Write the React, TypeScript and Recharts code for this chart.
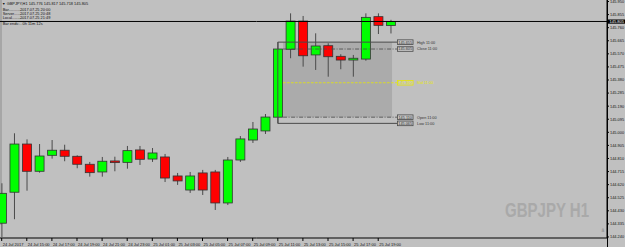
import React from 'react';
import { ComposedChart, Bar, XAxis, YAxis, ReferenceLine, ReferenceArea, ReferenceDot } from 'recharts';

// GBPJPY H1, 24 Jul 13:00 .. 25 Jul 20:00
const opens = [144.340, 144.565, 144.915, 144.717, 144.833, 144.870, 144.826, 144.768, 144.712, 144.792, 144.782, 144.872, 144.806, 144.821, 144.683, 144.581, 144.705, 144.712, 144.487, 144.799, 144.944, 145.010, 145.110, 145.603, 145.808, 145.562, 145.629, 145.552, 145.525, 145.532, 145.840, 145.776];
const highs = [144.630, 144.993, 144.949, 144.915, 144.944, 144.910, 144.833, 144.785, 144.821, 144.823, 144.901, 144.901, 144.886, 144.843, 144.705, 144.712, 144.727, 144.727, 144.821, 144.973, 145.075, 145.133, 145.655, 145.864, 145.845, 145.719, 145.647, 145.567, 145.562, 145.864, 145.864, 145.817];
const lows = [144.240, 144.369, 144.576, 144.707, 144.809, 144.790, 144.739, 144.678, 144.678, 144.717, 144.736, 144.763, 144.785, 144.639, 144.618, 144.560, 144.545, 144.436, 144.472, 144.785, 144.923, 144.988, 145.065, 145.538, 145.477, 145.453, 145.404, 145.458, 145.404, 145.520, 145.714, 145.718];
const closes = [144.557, 144.915, 144.717, 144.828, 144.870, 144.826, 144.768, 144.707, 144.790, 144.780, 144.867, 144.804, 144.850, 144.668, 144.647, 144.683, 144.581, 144.487, 144.799, 144.952, 145.024, 145.111, 145.605, 145.808, 145.556, 145.627, 145.549, 145.525, 145.538, 145.835, 145.777, 145.805];

const timeLabels = ['24 Jul 2017', '24 Jul 15:00', '24 Jul 17:00', '24 Jul 19:00', '24 Jul 21:00', '24 Jul 23:00', '25 Jul 01:00', '25 Jul 03:00', '25 Jul 05:00', '25 Jul 07:00', '25 Jul 09:00', '25 Jul 11:00', '25 Jul 13:00', '25 Jul 15:00', '25 Jul 17:00', '25 Jul 19:00'];
const timeTicks = timeLabels.map((_, k) => k * 2);
const priceTicks = [145.950, 145.855, 145.760, 145.665, 145.570, 145.475, 145.380, 145.285, 145.190, 145.095, 145.000, 144.905, 144.810, 144.715, 144.620, 144.525, 144.430, 144.335, 144.240];

const bid = 145.805;
const boxBar = 22; // 25 Jul 11:00
const boxEnd = 31.1;
const lineEnd = 31.5;

const data = opens.map((o, i) => ({ i, o, h: highs[i], l: lows[i], c: closes[i] }));

const bH = highs[boxBar];
const bL = lows[boxBar];
const bO = opens[boxBar];
const bC = closes[boxBar];
const bM = (bH + bL) / 2;

const FONT = '"Liberation Sans", Arial, sans-serif';

function Candle(props: any) {
  const { x, y, width, height, payload } = props;
  if (height == null) return null;
  const { o, h, l, c } = payload;
  const k = height / (h - l);
  const cx = x + width / 2;
  const py = (v: number) => y + (h - v) * k;
  const top = py(Math.max(o, c));
  const bot = py(Math.min(o, c));
  return (
    <g>
      <line x1={cx} x2={cx} y1={y} y2={y + height} stroke="#4a4a4a" strokeWidth={1} />
      <rect x={x} y={top} width={width} height={Math.max(bot - top, 1)}
        fill={c >= o ? '#00ff00' : '#ff0000'} stroke="#333" strokeWidth={0.8} />
    </g>
  );
}

function TimeTick(props: any) {
  const { x, y, payload, index } = props;
  return (
    <text x={x + 1} y={y + 3} fontSize={4} fontFamily={FONT} fill="#111" textAnchor="start">
      {timeLabels[index] ?? payload.value}
    </text>
  );
}

function tag(text: string, name: string, color: string, textColor: string) {
  return (p: any) => (
    <g>
      <rect x={p.cx + 0.5} y={p.cy - 2.3} width={15.5} height={4.6} fill="#c4c4c4" stroke={color} strokeWidth={0.8} />
      <text x={p.cx + 8.2} y={p.cy + 1.4} fontSize={3.8} fontFamily={FONT} fill={textColor} textAnchor="middle">{text}</text>
      <text x={p.cx + 20} y={p.cy + 1.4} fontSize={3.8} fontFamily={FONT} fill={textColor}>{name}</text>
    </g>
  );
}

function BidTag(p: any) {
  return (
    <g>
      <rect x={p.cx + 1} y={p.cy - 2} width={17} height={4.2} fill="#000" />
      <text x={p.cx + 2.5} y={p.cy + 1.4} fontSize={4} fontFamily={FONT} fill="#fff">{bid.toFixed(3)}</text>
    </g>
  );
}

export default function App() {
  return (
    <div style={{ position: 'absolute', left: 0, top: 0, width: 625, height: 247, background: '#c0c0c0', overflow: 'hidden' }}>
      <div style={{ position: 'absolute', left: 0, top: 0, width: 2, height: 225, background: '#a6a6a6' }} />
      <svg width={625} height={247} style={{ position: 'absolute', left: 0, top: 0 }}>
        <text x={505} y={217} fontSize={21} fontWeight="bold" fontFamily={FONT} fill="#a9a9a9"
          textLength={84} lengthAdjust="spacingAndGlyphs">GBPJPY H1</text>
        <line x1={607.5} x2={607.5} y1={0} y2={247} stroke="#000" strokeWidth={1} />
        <text x={601.5} y={232} fontSize={5} fontFamily={FONT} fill="#8a8a8a">â</text>
      </svg>
      <div style={{ position: 'absolute', left: 0, top: 0 }}>
        <ComposedChart width={625} height={247} data={data} margin={{ top: 0, right: 0, bottom: 0, left: 0 }}>
          <XAxis dataKey="i" type="number" domain={[-0.135, 48.23]} allowDataOverflow ticks={timeTicks}
            height={9} tickSize={3} tickLine={{ stroke: '#000' }} axisLine={{ stroke: '#000' }}
            tick={<TimeTick />} interval={0} />
          <YAxis orientation="right" type="number" domain={[144.2325, 145.961]} allowDataOverflow ticks={priceTicks}
            width={18} tickSize={2} tickMargin={1} interval={0}
            tick={{ fontSize: 3.9, fontFamily: FONT, fill: '#111' }} tickLine={{ stroke: '#000' }}
            axisLine={{ stroke: '#000' }} tickFormatter={(v: number) => v.toFixed(3)} />
          <ReferenceArea x1={boxBar + 0.42} x2={boxEnd} y1={bO} y2={bH} fill="#a2a2a2" fillOpacity={0.7} stroke="none" />
          <ReferenceLine y={bid} stroke="#000" strokeWidth={1} />
          <ReferenceLine segment={[{ x: boxBar, y: bH }, { x: lineEnd, y: bH }]} stroke="#4a4a4a" strokeWidth={1} />
          <ReferenceLine segment={[{ x: boxBar, y: bL }, { x: lineEnd, y: bL }]} stroke="#4a4a4a" strokeWidth={1} />
          <ReferenceLine segment={[{ x: boxBar, y: bH }, { x: boxBar, y: bL }]} stroke="#4a4a4a" strokeWidth={1} />
          <ReferenceLine segment={[{ x: boxBar + 0.42, y: bC }, { x: lineEnd, y: bC }]} stroke="#4a4a4a" strokeWidth={0.8} strokeDasharray="4 1.5 1 1.5" />
          <ReferenceLine segment={[{ x: boxBar + 0.42, y: bO }, { x: lineEnd, y: bO }]} stroke="#4a4a4a" strokeWidth={0.8} strokeDasharray="4 1.5 1 1.5" />
          <ReferenceLine segment={[{ x: boxBar + 0.42, y: bM }, { x: lineEnd, y: bM }]} stroke="#e8e800" strokeWidth={0.8} strokeDasharray="2.5 1.5" />
          <Bar dataKey={(d: any) => [d.l, d.h]} barSize={9} shape={<Candle />} isAnimationActive={false} />
          <ReferenceDot x={lineEnd} y={bH} r={0} shape={tag(bH.toFixed(3), 'High 11:00', '#4a4a4a', '#333')} />
          <ReferenceDot x={lineEnd} y={bC} r={0} shape={tag(bC.toFixed(3), 'Close 11:00', '#4a4a4a', '#333')} />
          <ReferenceDot x={lineEnd} y={bM} r={0} shape={tag(bM.toFixed(3), 'Mid 11:00', '#e8e800', '#e8e800')} />
          <ReferenceDot x={lineEnd} y={bO} r={0} shape={tag(bO.toFixed(3), 'Open 11:00', '#4a4a4a', '#333')} />
          <ReferenceDot x={lineEnd} y={bL} r={0} shape={tag(bL.toFixed(3), 'Low 11:00', '#4a4a4a', '#333')} />
          <ReferenceDot x={48.23} y={bid} r={0} shape={BidTag} />
        </ComposedChart>
      </div>
      <svg width={160} height={30} style={{ position: 'absolute', left: 0, top: 0 }}>
        <g fontSize={3.9} fontFamily={FONT} fill="#111">
          <text x={2} y={5.4} fontSize={3.5}>▼</text>
          <text x={6.7} y={5.4}>GBPJPY,H1  145.776 145.817 145.718 145.805</text>
          <text x={2.7} y={10.5}>Bar.............</text>
          <text x={20} y={10.5}>2017.07.25 20:00</text>
          <text x={2.7} y={15}>Server........</text>
          <text x={20} y={15}>2017.07.25 20:48</text>
          <text x={2.7} y={19.4}>Local..........</text>
          <text x={20} y={19.4}>2017.07.25 21:49</text>
          <text x={2.7} y={25.4}>Bar ends:.. 0h 11m 12s</text>
        </g>
      </svg>
    </div>
  );
}
